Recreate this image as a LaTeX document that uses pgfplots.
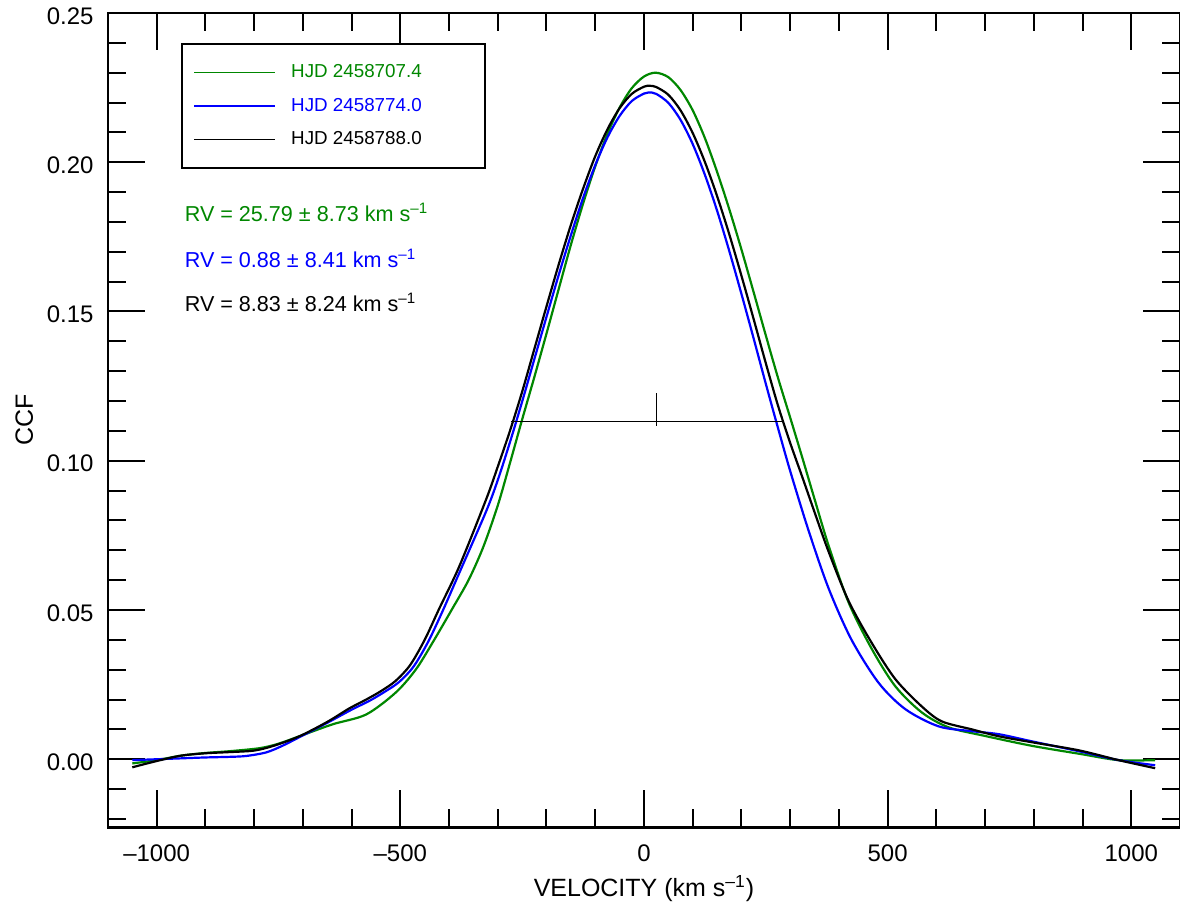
\documentclass[border=0pt]{standalone}
\usepackage{fontspec}
\setmainfont{Liberation Sans}
\usepackage{pgfplots}
\pgfplotsset{compat=1.18}
\definecolor{ccfgreen}{RGB}{0,135,0}
\definecolor{ccfblue}{RGB}{0,0,255}
\begin{document}
\begin{tikzpicture}
\begin{axis}[
  scale only axis, width=536.5pt, height=407.5pt,
  xmin=-1100, xmax=1100, ymin=-0.0228, ymax=0.25,
  axis line style={line width=1.2pt},
  every tick/.style={black, line width=1pt},
  major tick length=18.5pt, minor tick length=9.25pt,
  tick align=inside,
  xtick={-1000,-500,0,500,1000},
  xticklabels={–1000,–500,0,500,1000},
  minor xtick={-900,-800,-700,-600,-400,-300,-200,-100,100,200,300,400,600,700,800,900},
  ytick={0,0.05,0.10,0.15,0.20,0.25},
  yticklabels={0.00,0.05,0.10,0.15,0.20,0.25},
  minor ytick={-0.02,-0.01,0.01,0.02,0.03,0.04,0.06,0.07,0.08,0.09,0.11,0.12,0.13,0.14,0.16,0.17,0.18,0.19,0.21,0.22,0.23,0.24},
  tick label style={font=\fontsize{12}{14}\selectfont, inner sep=0pt},
  xticklabel shift=8.5pt, yticklabel shift=7pt,
  yticklabel style={yshift=-1.5pt},
  xlabel={VELOCITY (km s\textsuperscript{–1})},
  ylabel={CCF},
  every axis x label/.style={at={([yshift=-34.5pt]axis description cs:0.5,0)}, anchor=base, inner sep=0pt, font=\fontsize{12.5}{14}\selectfont},
  every axis y label/.style={at={([xshift=-37.5pt]axis description cs:0,0.5)}, anchor=base, rotate=90, inner sep=0pt, font=\fontsize{12.5}{14}\selectfont},
  clip=false,
  legend cell align=left,
  legend image code/.code={\draw[#1, line width=0.9pt] (0pt,0pt) -- (40.5pt,0pt);},
  legend style={at={(axis cs:-949,0.2400)}, anchor=north west, draw=black, line width=1pt,
    inner xsep=5.5pt, inner ysep=6pt, row sep=0pt, column sep=7.5pt,
    nodes={inner sep=0pt, minimum height=16.75pt, font=\fontsize{9.4}{11}\selectfont}},
]
\addplot[ccfgreen, line width=1.1pt, smooth] coordinates {
(-1050,-0.0014) (-1000,-0.0003) (-950,0.0012) (-900,0.0021) (-850,0.0027) (-789,0.0037)
(-750,0.0052) (-707,0.0077) (-639,0.0117) (-570,0.0150) (-509,0.0224) (-468,0.0301)
(-434,0.0390) (-393,0.0505) (-360,0.0600) (-330,0.0710) (-300,0.0850) (-275,0.0992)
(-250,0.1138) (-225,0.1280) (-200,0.1426) (-175,0.1575) (-150,0.1723) (-125,0.1861)
(-100,0.1986) (-75,0.2095) (-50,0.2183) (-25,0.2248) (0,0.2287) (24,0.2300) (50,0.2285)
(75,0.2242) (100,0.2174) (125,0.2081) (150,0.1968) (175,0.1843) (200,0.1708) (225,0.1565)
(250,0.1420) (275,0.1278) (300,0.1145) (325,0.1010) (350,0.0872) (379,0.0715) (420,0.0525)
(468,0.0368) (516,0.0244) (570,0.0157) (625,0.0107) (700,0.0078) (796,0.0045) (898,0.0017)
(974,-0.0003) (1049,-0.0003)};
\addlegendentry{\makebox[91.5pt][l]{\textcolor{ccfgreen}{HJD 2458707.4}}}
\addplot[ccfblue, line width=1.1pt, smooth] coordinates {
(-1050,-0.0003) (-1000,0.0000) (-950,0.0003) (-900,0.0006) (-850,0.0008) (-816,0.0011)
(-775,0.0023) (-742,0.0045) (-707,0.0074) (-650,0.0122) (-600,0.0166) (-563,0.0196)
(-533,0.0225) (-503,0.0258) (-473,0.0310) (-443,0.0393) (-413,0.0497) (-379,0.0624)
(-324,0.0830) (-300,0.0935) (-275,0.1062) (-250,0.1198) (-225,0.1340) (-200,0.1482)
(-175,0.1622) (-150,0.1755) (-125,0.1880) (-100,0.1990) (-75,0.2083) (-50,0.2155)
(-25,0.2205) (0,0.2230) (10,0.2234) (25,0.2229) (50,0.2199) (75,0.2142) (100,0.2061)
(125,0.1958) (150,0.1838) (175,0.1703) (200,0.1559) (225,0.1410) (250,0.1258) (275,0.1110)
(300,0.0966) (338,0.0765) (379,0.0572) (426,0.0400) (482,0.0255) (537,0.0167) (605,0.0110)
(673,0.0094) (728,0.0084) (796,0.0060) (892,0.0027) (974,-0.0003) (1049,-0.0020)};
\addlegendentry{\makebox[91.5pt][l]{\textcolor{ccfblue}{HJD 2458774.0}}}
\addplot[black, line width=1.1pt, smooth] coordinates {
(-1050,-0.0027) (-1000,-0.0006) (-950,0.0012) (-900,0.0020) (-850,0.0024) (-800,0.0029)
(-760,0.0045) (-707,0.0077) (-650,0.0125) (-605,0.0170) (-570,0.0200) (-540,0.0228)
(-510,0.0262) (-480,0.0315) (-450,0.0400) (-420,0.0505) (-379,0.0646) (-324,0.0870)
(-300,0.0980) (-275,0.1100) (-250,0.1231) (-225,0.1374) (-200,0.1517) (-175,0.1657)
(-150,0.1790) (-125,0.1911) (-100,0.2020) (-75,0.2110) (-50,0.2181) (-25,0.2229)
(0,0.2253) (12,0.2256) (25,0.2252) (50,0.2226) (75,0.2174) (100,0.2098) (125,0.2001)
(150,0.1887) (175,0.1759) (200,0.1620) (225,0.1475) (250,0.1327) (275,0.1185) (300,0.1060)
(325,0.0945) (350,0.0828) (379,0.0695) (420,0.0530) (468,0.0388) (516,0.0268) (570,0.0177)
(611,0.0127) (673,0.0100) (728,0.0077) (796,0.0057) (892,0.0030) (974,-0.0003) (1049,-0.0030)};
\addlegendentry{\makebox[91.5pt][l]{HJD 2458788.0}}
\addplot[black, line width=0.8pt, forget plot] coordinates {(-273,0.1131) (283,0.1131)};
\addplot[black, line width=0.8pt, forget plot] coordinates {(26,0.1118) (26,0.1228)};
\node[anchor=base west, inner sep=0pt, text=ccfgreen, font=\fontsize{10.8}{13}\selectfont] at (axis cs:-943,0.1801) {RV = 25.79 ± 8.73 km s\textsuperscript{–1}};
\node[anchor=base west, inner sep=0pt, text=ccfblue, font=\fontsize{10.8}{13}\selectfont] at (axis cs:-943,0.1647) {RV = 0.88 ± 8.41 km s\textsuperscript{–1}};
\node[anchor=base west, inner sep=0pt, text=black, font=\fontsize{10.8}{13}\selectfont] at (axis cs:-943,0.1499) {RV = 8.83 ± 8.24 km s\textsuperscript{–1}};
\coordinate (SW) at (rel axis cs:0,0);
\coordinate (NE) at (rel axis cs:1,1);
\end{axis}
\pgfresetboundingbox
\path[use as bounding box] ([shift={(-54pt,-41pt)}]SW) rectangle ([shift={(0pt,6.5pt)}]NE);
\end{tikzpicture}
\end{document}
